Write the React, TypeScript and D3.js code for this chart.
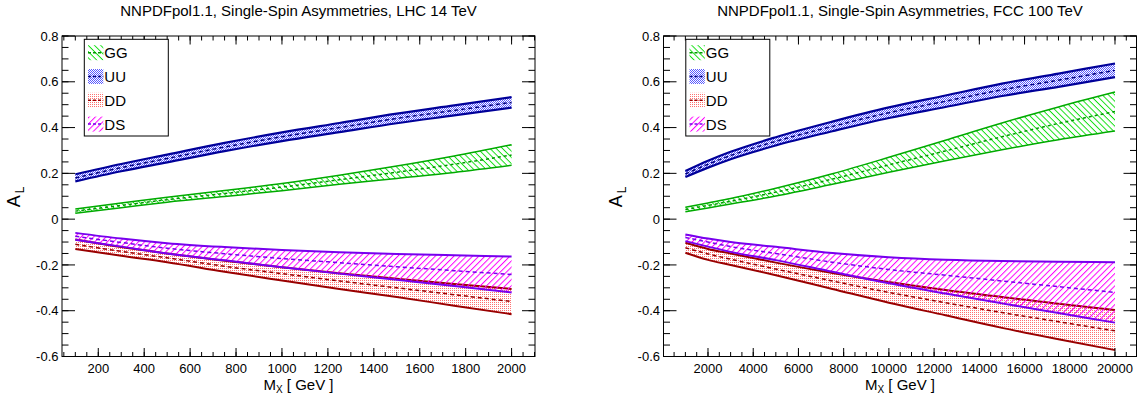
import React from 'react';
import * as d3 from 'd3';

// ---------- data: LHC 14 TeV ----------
const lhcMass = [100, 300, 500, 750, 1000, 1250, 1500, 1750, 2000];
const lhcGGLow = [0.026, 0.05, 0.074, 0.099, 0.124, 0.152, 0.178, 0.204, 0.235];
const lhcGGMid = [0.035, 0.06, 0.085, 0.112, 0.14, 0.172, 0.205, 0.24, 0.28];
const lhcGGHigh = [0.044, 0.07, 0.096, 0.125, 0.156, 0.192, 0.232, 0.276, 0.325];
const lhcUULow = [0.165, 0.209, 0.248, 0.297, 0.341, 0.38, 0.419, 0.453, 0.487];
const lhcUUMid = [0.18, 0.225, 0.265, 0.315, 0.36, 0.4, 0.44, 0.475, 0.51];
const lhcUUHigh = [0.196, 0.241, 0.282, 0.333, 0.379, 0.42, 0.461, 0.497, 0.533];
const lhcDDLow = [-0.13, -0.16, -0.188, -0.23, -0.268, -0.305, -0.34, -0.378, -0.415];
const lhcDDMid = [-0.11, -0.141, -0.169, -0.206, -0.238, -0.27, -0.3, -0.33, -0.36];
const lhcDDHigh = [-0.089, -0.122, -0.15, -0.182, -0.21, -0.236, -0.26, -0.283, -0.305];
const lhcDSLow = [-0.09, -0.12, -0.15, -0.18, -0.21, -0.238, -0.265, -0.292, -0.32];
const lhcDSMid = [-0.075, -0.102, -0.127, -0.151, -0.172, -0.19, -0.208, -0.225, -0.242];
const lhcDSHigh = [-0.06, -0.085, -0.105, -0.122, -0.135, -0.145, -0.152, -0.158, -0.163];

// ---------- data: FCC 100 TeV ----------
const fccMass = [1000, 2000, 3000, 5000, 7500, 10000, 12500, 15000, 17500, 20000];
const fccGGLow = [0.032, 0.049, 0.066, 0.101, 0.152, 0.205, 0.255, 0.303, 0.347, 0.385];
const fccGGMid = [0.042, 0.06, 0.078, 0.118, 0.175, 0.237, 0.298, 0.36, 0.418, 0.47];
const fccGGHigh = [0.052, 0.071, 0.09, 0.135, 0.198, 0.27, 0.345, 0.42, 0.49, 0.555];
const fccUULow = [0.184, 0.225, 0.262, 0.322, 0.384, 0.442, 0.49, 0.538, 0.578, 0.62];
const fccUUMid = [0.197, 0.24, 0.278, 0.34, 0.405, 0.465, 0.515, 0.565, 0.607, 0.65];
const fccUUHigh = [0.21, 0.255, 0.294, 0.358, 0.426, 0.488, 0.54, 0.592, 0.636, 0.68];
const fccDDLow = [-0.147, -0.178, -0.2, -0.245, -0.305, -0.365, -0.42, -0.475, -0.525, -0.572];
const fccDDMid = [-0.125, -0.152, -0.175, -0.218, -0.27, -0.32, -0.365, -0.408, -0.448, -0.488];
const fccDDHigh = [-0.103, -0.13, -0.15, -0.19, -0.235, -0.275, -0.31, -0.34, -0.37, -0.397];
const fccDSLow = [-0.096, -0.12, -0.143, -0.179, -0.23, -0.28, -0.325, -0.368, -0.41, -0.452];
const fccDSMid = [-0.08, -0.1, -0.12, -0.15, -0.188, -0.22, -0.245, -0.27, -0.295, -0.32];
const fccDSHigh = [-0.067, -0.085, -0.1, -0.121, -0.148, -0.166, -0.177, -0.183, -0.186, -0.188];

// ---------- ticks / labels ----------
const yTicks = [-0.6, -0.4, -0.2, 0, 0.2, 0.4, 0.6, 0.8];
const yTickLabels = ['-0.6', '-0.4', '-0.2', '0', '0.2', '0.4', '0.6', '0.8'];
const lhcXTicks = [200, 400, 600, 800, 1000, 1200, 1400, 1600, 1800, 2000];
const fccXTicks = [2000, 4000, 6000, 8000, 10000, 12000, 14000, 16000, 18000, 20000];
const legendNames = ['GG', 'UU', 'DD', 'DS'];
const titles = [
  'NNPDFpol1.1, Single-Spin Asymmetries, LHC 14 TeV',
  'NNPDFpol1.1, Single-Spin Asymmetries, FCC 100 TeV',
];

const FONT = "'Liberation Sans', Arial, Helvetica, sans-serif";
const TOP = 36;
const BOTTOM = 356.5;
const PW = 473;

type Style = { border: string; bw: number; fill: string; mid: string; mw: number; dash: string };
const styles: Record<string, Style> = {
  GG: { border: '#00aa00', bw: 1.5, fill: 'url(#patGG)', mid: '#009900', mw: 1.5, dash: '3,3' },
  UU: { border: '#000099', bw: 2.2, fill: 'url(#patUU)', mid: '#000080', mw: 1.5, dash: '4,3' },
  DD: { border: '#990000', bw: 2, fill: 'url(#patDD)', mid: '#990000', mw: 1.5, dash: '4,3' },
  DS: { border: '#7700ee', bw: 2, fill: 'url(#patDS)', mid: '#7700ee', mw: 1.5, dash: '4,3' },
};

type Band = { name: string; low: number[]; mid: number[]; high: number[] };

function Panel(props: {
  left: number;
  domain: [number, number];
  mass: number[];
  bands: Band[];
  xTicks: number[];
  minorStep: number;
  title: string;
}) {
  const { left, domain, mass, bands, xTicks, minorStep, title } = props;
  const right = left + PW;
  const x = d3.scaleLinear().domain(domain).range([left, right]);
  const y = d3.scaleLinear().domain([-0.6, 0.8]).range([BOTTOM, TOP]);
  const idx = mass.map((_, i) => i);
  const area = (b: Band) =>
    d3
      .area<number>()
      .x((i) => x(mass[i]))
      .y0((i) => y(b.low[i]))
      .y1((i) => y(b.high[i]))
      .curve(d3.curveMonotoneX)(idx) || '';
  const line = (vals: number[]) =>
    d3
      .line<number>()
      .x((i) => x(mass[i]))
      .y((i) => y(vals[i]))
      .curve(d3.curveMonotoneX)(idx) || '';

  const xMinor = d3.range(Math.ceil(domain[0] / minorStep) * minorStep, domain[1], minorStep);
  const yMinor = d3.range(-0.6, 0.8001, 0.05);
  const cx = (left + right) / 2;
  const legX = left + 22.3;

  return (
    <g>
      <text x={cx} y={16} textAnchor="middle" fontSize={15} fontFamily={FONT}>
        {title}
      </text>
      {bands.map((b) => (
        <g key={b.name}>
          <path d={area(b)} fill={styles[b.name].fill} stroke="none" />
          <path d={line(b.high)} fill="none" stroke={styles[b.name].border} strokeWidth={styles[b.name].bw} />
          <path d={line(b.low)} fill="none" stroke={styles[b.name].border} strokeWidth={styles[b.name].bw} />
          <path
            d={line(b.mid)}
            fill="none"
            stroke={styles[b.name].mid}
            strokeWidth={styles[b.name].mw}
            strokeDasharray={styles[b.name].dash}
          />
        </g>
      ))}
      {/* frame */}
      <rect x={left} y={TOP} width={PW} height={BOTTOM - TOP} fill="none" stroke="#000" strokeWidth={1} />
      {/* x ticks */}
      {xMinor.map((v) => (
        <g key={'xm' + v}>
          <line x1={x(v)} x2={x(v)} y1={BOTTOM} y2={BOTTOM - 4.5} stroke="#000" />
          <line x1={x(v)} x2={x(v)} y1={TOP} y2={TOP + 4.5} stroke="#000" />
        </g>
      ))}
      {xTicks.map((v) => (
        <g key={'xM' + v}>
          <line x1={x(v)} x2={x(v)} y1={BOTTOM} y2={BOTTOM - 8.5} stroke="#000" />
          <line x1={x(v)} x2={x(v)} y1={TOP} y2={TOP + 8.5} stroke="#000" />
          <text x={x(v)} y={373} textAnchor="middle" fontSize={13} fontFamily={FONT}>
            {String(v)}
          </text>
        </g>
      ))}
      {/* y ticks */}
      {yMinor.map((v, i) => (
        <g key={'ym' + i}>
          <line x1={left} x2={left + 6.5} y1={y(v)} y2={y(v)} stroke="#000" />
          <line x1={right} x2={right - 6.5} y1={y(v)} y2={y(v)} stroke="#000" />
        </g>
      ))}
      {yTicks.map((v, i) => (
        <g key={'yM' + i}>
          <line x1={left} x2={left + 13} y1={y(v)} y2={y(v)} stroke="#000" />
          <line x1={right} x2={right - 13} y1={y(v)} y2={y(v)} stroke="#000" />
          <text x={left - 3.5} y={y(v)} dy="0.36em" textAnchor="end" fontSize={13} fontFamily={FONT}>
            {yTickLabels[i]}
          </text>
        </g>
      ))}
      {/* axis titles */}
      <text x={cx} y={390} textAnchor="middle" fontSize={15} fontFamily={FONT}>
        M<tspan fontSize={10} dy={3}>X</tspan>
        <tspan dy={-3}> [ GeV ]</tspan>
      </text>
      <text transform={`translate(${left - 42},197) rotate(-90)`} textAnchor="middle" fontSize={18} fontFamily={FONT}>
        A<tspan fontSize={12} dy={4} dx={2}>L</tspan>
      </text>
      {/* legend */}
      <rect x={legX} y={39.3} width={84} height={96.7} fill="#fff" stroke="#000" strokeWidth={1} />
      {legendNames.map((n, i) => {
        const cy = 52.7 + i * 23.8;
        const s = styles[n];
        return (
          <g key={'lg' + n}>
            <rect x={legX + 3.7} y={cy - 7.5} width={15.3} height={15} fill={s.fill} />
            <line
              x1={legX + 3.7}
              x2={legX + 19}
              y1={cy}
              y2={cy}
              stroke={s.mid}
              strokeWidth={1.5}
              strokeDasharray="3,2"
            />
            <text x={legX + 20} y={cy} dy="0.36em" fontSize={15} fontFamily={FONT}>
              {n}
            </text>
          </g>
        );
      })}
    </g>
  );
}

export default function App() {
  const lhcBands: Band[] = [
    { name: 'GG', low: lhcGGLow, mid: lhcGGMid, high: lhcGGHigh },
    { name: 'UU', low: lhcUULow, mid: lhcUUMid, high: lhcUUHigh },
    { name: 'DD', low: lhcDDLow, mid: lhcDDMid, high: lhcDDHigh },
    { name: 'DS', low: lhcDSLow, mid: lhcDSMid, high: lhcDSHigh },
  ];
  const fccBands: Band[] = [
    { name: 'GG', low: fccGGLow, mid: fccGGMid, high: fccGGHigh },
    { name: 'UU', low: fccUULow, mid: fccUUMid, high: fccUUHigh },
    { name: 'DD', low: fccDDLow, mid: fccDDMid, high: fccDDHigh },
    { name: 'DS', low: fccDSLow, mid: fccDSMid, high: fccDSHigh },
  ];
  return (
    <svg
      width={1148}
      height={403}
      style={{ position: 'absolute', left: 0, top: 0, background: '#fff' }}
      xmlns="http://www.w3.org/2000/svg"
    >
      <defs>
        <pattern id="patGG" patternUnits="userSpaceOnUse" width={8} height={4.4} patternTransform="rotate(45)">
          <line x1={0} y1={0.5} x2={8} y2={0.5} stroke="#00dd00" strokeWidth={0.9} />
        </pattern>
        <pattern id="patDS" patternUnits="userSpaceOnUse" width={8} height={4.4} patternTransform="rotate(-45)">
          <line x1={0} y1={0.5} x2={8} y2={0.5} stroke="#ff00ff" strokeWidth={1} />
        </pattern>
        <pattern id="patUU" patternUnits="userSpaceOnUse" width={2} height={2}>
          <rect x={0} y={0} width={2} height={2} fill="#ffffff" />
          <rect x={0} y={0} width={1} height={1} fill="#5c5cff" />
          <rect x={1} y={1} width={1} height={1} fill="#5c5cff" />
        </pattern>
        <pattern id="patDD" patternUnits="userSpaceOnUse" width={2} height={2}>
          <rect x={0} y={0} width={2} height={2} fill="#ffffff" />
          <rect x={0} y={0} width={1} height={1} fill="#ff7070" />
        </pattern>
      </defs>
      <rect x={0} y={0} width={1148} height={403} fill="#fff" />
      <Panel
        left={62}
        domain={[42, 2102]}
        mass={lhcMass}
        bands={lhcBands}
        xTicks={lhcXTicks}
        minorStep={50}
        title={titles[0]}
      />
      <Panel
        left={663.5}
        domain={[32, 20951]}
        mass={fccMass}
        bands={fccBands}
        xTicks={fccXTicks}
        minorStep={500}
        title={titles[1]}
      />
    </svg>
  );
}
